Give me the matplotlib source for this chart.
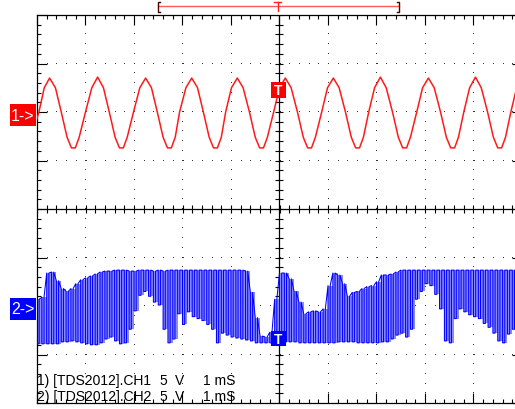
import numpy as np
import matplotlib.pyplot as plt
from matplotlib.patches import Rectangle

plt.rcParams['font.family'] = ['Liberation Sans', 'DejaVu Sans']

# scope settings
volts_per_div = 5.0
ch1_offset = 2.0    # divisions above centre
ch2_offset = -2.0   # divisions below centre

# CH1: sine trace vertices (time in ms, volts)
ch1_t = [-5.02,
         -4.96, -4.85, -4.74, -4.62, -4.50, -4.38, -4.29, -4.21, -4.13,
         -4.00, -3.87, -3.75, -3.63, -3.51, -3.39, -3.30, -3.22, -3.14,
         -3.01, -2.88, -2.76, -2.64, -2.52, -2.40, -2.31, -2.23, -2.15,
         -2.06, -1.93, -1.81, -1.69, -1.57, -1.45, -1.36, -1.28, -1.20,
         -1.11, -0.99, -0.87, -0.75, -0.62, -0.50, -0.41, -0.33, -0.25,
         -0.12, 0.00, 0.12, 0.24, 0.37, 0.49, 0.58, 0.66, 0.74,
         0.87, 0.99, 1.11, 1.23, 1.36, 1.48, 1.57, 1.65, 1.73,
         1.84, 1.96, 2.08, 2.20, 2.33, 2.45, 2.54, 2.62, 2.70,
         2.83, 2.95, 3.07, 3.19, 3.32, 3.44, 3.53, 3.61, 3.69,
         3.80, 3.92, 4.04, 4.16, 4.29, 4.41, 4.50, 4.58, 4.66,
         4.77, 4.89, 5.01]
ch1_v = [-1.0,
         0.0, 2.5, 3.5, 2.5, 0.0, -2.6, -3.7, -3.7, -2.6,
         0.0, 2.5, 3.6, 2.5, 0.0, -2.6, -3.7, -3.7, -2.6,
         0.0, 2.5, 3.5, 2.5, 0.0, -2.6, -3.7, -3.7, -2.6,
         0.0, 2.5, 3.5, 2.5, 0.0, -2.6, -3.7, -3.7, -2.6,
         0.0, 2.5, 3.5, 2.5, 0.0, -2.6, -3.7, -3.7, -2.6,
         0.0, 2.5, 3.5, 2.5, 0.0, -2.6, -3.7, -3.7, -2.6,
         0.0, 2.5, 3.5, 2.5, 0.0, -2.6, -3.7, -3.7, -2.6,
         0.0, 2.5, 3.6, 2.5, 0.0, -2.6, -3.7, -3.7, -2.6,
         0.0, 2.5, 3.5, 2.5, 0.0, -2.6, -3.7, -3.7, -2.6,
         0.0, 2.5, 3.6, 2.5, 0.0, -2.6, -3.7, -3.7, -2.6,
         0.0, 2.5, 3.5]

# CH2: chopped signal, one pulse every 0.1 ms from -5 ms
# high level and low level of each pulse (volts)
ch2_high = [0.7, 0.9, 3.4, 3.5, 2.6, 1.8, 1.5, 1.8, 2.3, 2.7,
            2.9, 3.1, 3.3, 3.5, 3.6, 3.6, 3.7, 3.7, 3.7, 3.6,
            3.6, 3.7, 3.7, 3.7, 3.6, 3.7, 3.6, 3.7, 3.7, 3.7,
            3.7, 3.7, 3.7, 3.7, 3.7, 3.7, 3.7, 3.7, 3.7, 3.7,
            3.7, 3.7, 3.7, 3.6, 1.4, -1.2, -3.1, -3.2, -2.7, 0.7,
            3.4, 3.4, 2.8, 1.5, 0.4, -0.8, -0.6, -0.5, -0.6, -0.3,
            2.1, 3.4, 3.2, 2.3, 1.0, 1.4, 1.5, 1.8, 2.0, 2.1,
            2.5, 3.2, 3.2, 3.3, 3.5, 3.7, 3.7, 3.7, 3.7, 3.7,
            3.7, 3.7, 3.7, 3.7, 3.7, 3.7, 3.7, 3.7, 3.7, 3.7,
            3.7, 3.7, 3.7, 3.7, 3.7, 3.7, 3.7, 3.7, 3.7, 3.7]
ch2_low = [-3.9, -3.9, -3.9, -3.9, -3.9, -3.7, -3.7, -3.6, -3.7, -3.8,
           -3.9, -4.0, -4.0, -3.8, -3.4, -3.2, -3.6, -3.9, -3.8, -2.4,
           -0.5, 1.1, 1.5, 1.0, 0.4, 0.1, -2.4, -3.8, -3.4, -0.8,
           -1.9, -0.6, -1.1, -1.3, -1.5, -1.9, -2.4, -3.8, -2.8, -3.0,
           -3.2, -3.3, -3.4, -3.5, -3.6, -3.8, -3.8, -3.8, -3.8, -3.8,
           -3.8, -3.7, -3.7, -3.7, -3.8, -3.8, -3.8, -3.8, -3.8, -3.8,
           -3.8, -3.8, -3.7, -3.7, -3.7, -3.7, -3.8, -3.8, -3.8, -3.8,
           -3.8, -3.7, -3.7, -3.4, -3.0, -2.8, -3.2, -2.4, 0.7, 1.5,
           2.3, 2.1, 1.2, -0.3, -3.6, -3.8, -1.3, -0.3, -0.6, -0.9,
           -1.1, -1.3, -1.8, -2.2, -2.8, -3.6, -3.8, -2.9, -2.4, -2.6]
pulse_period = 0.1
pulse_low_time = 0.045


def px(x):
    return -5 + (x - 37) / 48.5


def py(y):
    return (210 - y) / 48.5


fig = plt.figure(figsize=(5.15, 4.10), dpi=100)
ax = fig.add_axes([37 / 515, 6 / 410, 485 / 515, 388 / 410])
ax.set_xlim(-5, 5)
ax.set_ylim(-4, 4)

# graticule ticks on the border
ax.set_xticks(np.arange(-5, 6, 1))
ax.set_xticks(np.arange(-5, 5.01, 0.2), minor=True)
ax.set_yticks(np.arange(-4, 5, 1))
ax.set_yticks(np.arange(-4, 4.01, 0.2), minor=True)
ax.tick_params(which='both', direction='in', top=True, right=True,
               labelbottom=False, labelleft=False, width=0.8, color='black')
ax.tick_params(which='major', length=7)
ax.tick_params(which='minor', length=3)
for s in ax.spines.values():
    s.set_linewidth(0.9)

# dotted grid
dots_v = np.arange(-3.8, 3.81, 0.2)
dots_h = np.arange(-4.8, 4.81, 0.2)
for xm in [-4, -3, -2, -1, 1, 2, 3, 4]:
    ax.plot(np.full(dots_v.size, xm), dots_v, ',', color='#333333', zorder=1)
for ym in [-3, -2, -1, 1, 2, 3]:
    ax.plot(dots_h, np.full(dots_h.size, ym), ',', color='#333333', zorder=1)

# centre crosshair with ticks
ax.axhline(0, color='black', lw=0.9, zorder=1)
ax.axvline(0, color='black', lw=0.9, zorder=1)
cross_x = np.arange(-5, 5.01, 0.2)
cross_y = np.arange(-4, 4.01, 0.2)
ax.plot(cross_x, np.zeros_like(cross_x), ls='none', marker='|', ms=5.5,
        mew=0.8, color='black', zorder=1)
ax.plot(np.zeros_like(cross_y), cross_y, ls='none', marker='_', ms=5.5,
        mew=0.8, color='black', zorder=1)

# CH2 trace
t2 = np.arange(len(ch2_high)) * pulse_period - 5
hi = ch2_offset + np.array(ch2_high) / volts_per_div
lo = ch2_offset + np.array(ch2_low) / volts_per_div
ax.bar(t2, lo - hi, bottom=hi, width=pulse_period, align='edge',
       color='#8a8aff', lw=0, zorder=2)
xs = np.column_stack([t2, t2, t2 + pulse_low_time, t2 + pulse_low_time]).ravel()
ys = np.column_stack([hi, lo, lo, hi]).ravel()
ax.plot(xs, ys, color='#0000ff', lw=0.75, zorder=3)

# CH1 trace
ax.plot(ch1_t, ch1_offset + np.array(ch1_v) / volts_per_div,
        color='#ff1a1a', lw=1.1, zorder=3)

# trigger markers
for yc, col in [(py(91), '#ff0000'), (py(339.5), '#0000ff')]:
    ax.add_patch(Rectangle((px(271), yc - 0.16), 15 / 48.5, 0.32,
                           facecolor=col, edgecolor='none', zorder=5))
    ax.text(px(278.5), yc - 0.01, 'T', color='white', fontsize=10, fontweight='bold',
            ha='center', va='center', zorder=6)

# channel ground markers
for yb, lbl, col in [(127, '1->', '#ff0000'), (321, '2->', '#0000ff')]:
    ax.add_patch(Rectangle((px(10), py(yb)), 26 / 48.5, 22 / 48.5,
                           facecolor=col, edgecolor='none', clip_on=False, zorder=5))
    ax.text(px(23), py(yb - 11), lbl, color='white', fontsize=11.5,
            ha='center', va='center', clip_on=False, zorder=6)

# trigger position bar on top
ytop = py(7)
ax.plot([px(158), px(399)], [ytop, ytop], color='#ff5a5a', lw=1.0, clip_on=False)
ax.plot([px(160), px(158), px(158), px(160)], [py(3), py(3), py(13), py(13)],
        color='#500000', lw=1.0, clip_on=False)
ax.plot([px(397), px(399), px(399), px(397)], [py(3), py(3), py(13), py(13)],
        color='#500000', lw=1.0, clip_on=False)
ax.plot([px(274.5), px(281.5)], [py(3), py(3)], color='#ff2020', lw=1.0, clip_on=False)
ax.plot([px(278), px(278)], [py(3), py(12)], color='#ff2020', lw=1.0, clip_on=False)

# channel readout
for yb, ch in [(385, 'CH1'), (401, 'CH2')]:
    n = ch[-1]
    ax.text(px(37), py(yb), n + ') [TDS2012].' + ch, fontsize=10, va='baseline', zorder=7)
    ax.text(px(159), py(yb), '5', fontsize=10, va='baseline', zorder=7)
    ax.text(px(175), py(yb), 'V', fontsize=10, va='baseline', zorder=7)
    ax.text(px(203), py(yb), '1 mS', fontsize=10, va='baseline', zorder=7)

fig.savefig('out.png', dpi=100)
